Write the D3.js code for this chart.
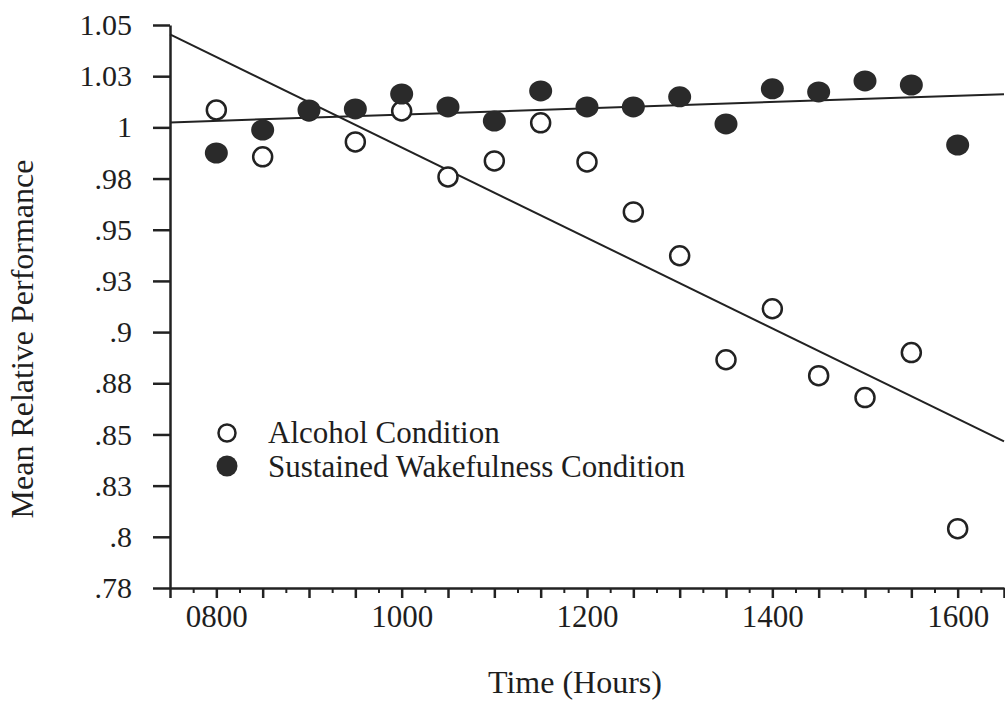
<!DOCTYPE html>
<html>
<head>
<meta charset="utf-8">
<script src="https://cdn.jsdelivr.net/npm/d3@7"></script>
<style>
  html, body { margin: 0; padding: 0; background: #fff; }
  svg { display: block; }
  text { font-family: "Liberation Serif", "Times New Roman", serif; fill: #1e1e1e; }
</style>
</head>
<body>
<svg id="chart" width="1005" height="705"></svg>
<script>
// Test times (decimal hours, 0800 to 1600 every half hour)
const hours = [8, 8.5, 9, 9.5, 10, 10.5, 11, 11.5, 12, 12.5, 13, 13.5, 14, 14.5, 15, 15.5, 16];

// Mean relative performance per condition
const alcohol = [1.0085, 0.9856, 1.008, 0.9929, 1.008, 0.9758, 0.9836, 1.0022, 0.9831,
                 0.9587, 0.9373, 0.8865, 0.9114, 0.8787, 0.868, 0.89, 0.804];
const wakefulness = [0.9875, 0.9987, 1.0085, 1.009, 1.0163, 1.010, 1.0031, 1.0178, 1.010,
                     1.010, 1.0149, 1.0017, 1.0188, 1.0173, 1.0227, 1.0207, 0.9914];

// Axis ticks and labels
const yTickValues = [1.05, 1.025, 1.0, 0.975, 0.95, 0.925, 0.9, 0.875, 0.85, 0.825, 0.8, 0.775];
const yTickLabels = ["1.05", "1.03", "1", ".98", ".95", ".93", ".9", ".88", ".85", ".83", ".8", ".78"];
const xLabelHours = [8, 10, 12, 14, 16];
const xLabelText = ["0800", "1000", "1200", "1400", "1600"];
const seriesNames = ["Alcohol Condition", "Sustained Wakefulness Condition"];
const xTitle = "Time (Hours)";
const yTitle = "Mean Relative Performance";

const ink = "#222";
const svg = d3.select("#chart");

const x = d3.scaleLinear().domain([7.5, 16.5]).range([170, 1004]);
const y = d3.scaleLinear().domain([0.775, 1.05]).range([588, 25]);

// Least-squares trend line
function fitLine(xs, ys) {
  const mx = d3.mean(xs), my = d3.mean(ys);
  let sxy = 0, sxx = 0;
  xs.forEach((v, i) => { sxy += (v - mx) * (ys[i] - my); sxx += (v - mx) * (v - mx); });
  const slope = sxy / sxx;
  return t => my + slope * (t - mx);
}

// Y axis
const yAxis = d3.axisLeft(y)
  .tickValues(yTickValues)
  .tickFormat((d, i) => yTickLabels[i])
  .tickSize(17)
  .tickSizeOuter(0)
  .tickPadding(21);
const gy = svg.append("g").attr("transform", `translate(${x(7.5)},0)`).call(yAxis);
gy.select(".domain").attr("stroke", ink).attr("stroke-width", 2.5);
gy.selectAll(".tick line").attr("stroke", ink).attr("stroke-width", 2.5);
gy.selectAll(".tick text").attr("font-size", 30).attr("fill", "#1e1e1e")
  .attr("font-family", "Liberation Serif, Times New Roman, serif");

// X axis: minor quarter-hour ticks
const minorTicks = d3.range(7.75, 16.5, 0.5);
const gxMinor = svg.append("g").attr("transform", `translate(0,${y(0.775)})`)
  .call(d3.axisBottom(x).tickValues(minorTicks).tickFormat("").tickSize(5).tickSizeOuter(0));
gxMinor.select(".domain").remove();
gxMinor.selectAll(".tick line").attr("stroke", ink).attr("stroke-width", 2);

// X axis: major half-hour ticks with labels on even hours
const majorTicks = d3.range(7.5, 16.51, 0.5);
const gx = svg.append("g").attr("transform", `translate(0,${y(0.775)})`)
  .call(d3.axisBottom(x)
    .tickValues(majorTicks)
    .tickFormat(d => { const k = xLabelHours.indexOf(d); return k >= 0 ? xLabelText[k] : ""; })
    .tickSize(10)
    .tickSizeOuter(0)
    .tickPadding(7));
gx.select(".domain").attr("stroke", ink).attr("stroke-width", 2.5);
gx.selectAll(".tick line").attr("stroke", ink).attr("stroke-width", 2.5);
gx.selectAll(".tick text").attr("font-size", 31).attr("fill", "#1e1e1e")
  .attr("font-family", "Liberation Serif, Times New Roman, serif");

// Axis titles
svg.append("text")
  .attr("x", 575).attr("y", 693)
  .attr("text-anchor", "middle")
  .attr("font-size", 32)
  .text(xTitle);
svg.append("text")
  .attr("transform", "translate(33,339) rotate(-90)")
  .attr("text-anchor", "middle")
  .attr("font-size", 32)
  .text(yTitle);

// Trend lines
const trendX = x.domain();
const line = d3.line().x(d => x(d[0])).y(d => y(d[1]));
[alcohol, wakefulness].forEach(series => {
  const f = fitLine(hours, series);
  svg.append("path")
    .attr("d", line(trendX.map(t => [t, f(t)])))
    .attr("fill", "none")
    .attr("stroke", ink)
    .attr("stroke-width", 2);
});

// Alcohol condition: open circles
svg.append("g").selectAll("circle")
  .data(hours.map((h, i) => [h, alcohol[i]]))
  .join("circle")
  .attr("cx", d => x(d[0]))
  .attr("cy", d => y(d[1]))
  .attr("r", 9.5)
  .attr("fill", "#fff")
  .attr("stroke", ink)
  .attr("stroke-width", 2.5);

// Sustained wakefulness condition: filled circles
svg.append("g").selectAll("ellipse")
  .data(hours.map((h, i) => [h, wakefulness[i]]))
  .join("ellipse")
  .attr("cx", d => x(d[0]))
  .attr("cy", d => y(d[1]))
  .attr("rx", 11.5)
  .attr("ry", 10.5)
  .attr("fill", "#2a2a2a");

// Legend
const legend = svg.append("g");
legend.append("circle").attr("cx", 227).attr("cy", 433).attr("r", 8.5)
  .attr("fill", "#fff").attr("stroke", ink).attr("stroke-width", 2.5);
legend.append("circle").attr("cx", 227).attr("cy", 466).attr("r", 10.5)
  .attr("fill", "#2a2a2a");
legend.append("text").attr("x", 268).attr("y", 443).attr("font-size", 31).text(seriesNames[0]);
legend.append("text").attr("x", 268).attr("y", 477).attr("font-size", 31).text(seriesNames[1]);
</script>
</body>
</html>
